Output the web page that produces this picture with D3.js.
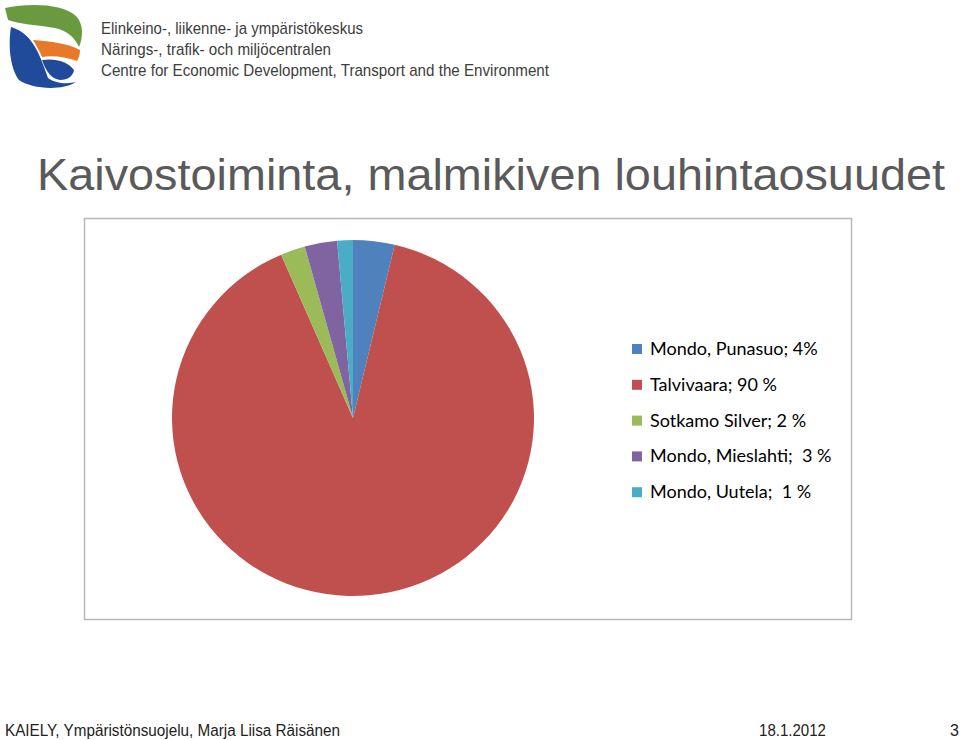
<!DOCTYPE html>
<html>
<head>
<meta charset="utf-8">
<script src="https://cdn.jsdelivr.net/npm/d3@7"></script>
<style>
  body { margin: 0; background: #fff; }
  svg { display: block; }
</style>
</head>
<body>
<svg id="chart" width="960" height="740"></svg>
<script>
// data
const sliceNames = ['Mondo, Punasuo', 'Talvivaara', 'Sotkamo Silver', 'Mondo, Mieslahti', 'Mondo, Uutela'];
const sliceValues = [3.7, 89.8, 2.2, 2.9, 1.4];
const sliceLabels = ['Mondo, Punasuo; 4%', 'Talvivaara; 90 %', 'Sotkamo Silver; 2 %', 'Mondo, Mieslahti;  3 %', 'Mondo, Uutela;  1 %'];
const sliceColors = ['#4f81bd', '#c0504d', '#9bbb59', '#8064a2', '#4bacc6'];
const headerLines = ['Elinkeino-, liikenne- ja ympäristökeskus', 'Närings-, trafik- och miljöcentralen', 'Centre for Economic Development, Transport and the Environment'];

const svg = d3.select('#chart');

// logo
const logo = svg.append('g');
logo.append('path')
  .attr('d', 'M5,8 C28,3 62,3 76,16 C84,24 83,38 79,47 C75,38 68,31 55,28 C38,25 18,24 8,20 Z')
  .attr('fill', '#6a9a3f');
logo.append('path')
  .attr('d', 'M11,27 C30,33 38,48 48,78 C56,84 68,84 76,82 C60,92 30,88 19,80 C10,68 8,45 11,27 Z')
  .attr('fill', '#1f4b9a');
logo.append('path')
  .attr('d', 'M33,40 C50,41 70,44 80,50 C80,54 79,58 77,61 C66,57 52,55 42,57 C39,50 36,45 33,40 Z')
  .attr('fill', '#e8782a');
logo.append('path')
  .attr('d', 'M42,60 C56,58 68,62 74,70 C73,76 68,80 60,80 C52,79 46,72 42,60 Z')
  .attr('fill', '#1f4b9a');

svg.append('g').selectAll('text').data(headerLines).enter().append('text')
  .attr('x', 101)
  .attr('y', (d, i) => 34 + i * 21)
  .style('font-family', 'Liberation Sans, Arial, sans-serif')
  .style('font-size', '17px')
  .attr('fill', '#3d3d3d')
  .attr('textLength', (d, i) => [262, 230, 448][i])
  .attr('lengthAdjust', 'spacingAndGlyphs')
  .text(d => d);

// title
svg.append('text')
  .attr('x', 37)
  .attr('y', 190)
  .style('font-family', 'Liberation Sans, Arial, sans-serif')
  .style('font-size', '44px')
  .attr('fill', '#5a5a5a')
  .attr('textLength', 908)
  .attr('lengthAdjust', 'spacingAndGlyphs')
  .text('Kaivostoiminta, malmikiven louhintaosuudet');

// chart frame
svg.append('rect')
  .attr('x', 84.5).attr('y', 218.5)
  .attr('width', 767).attr('height', 401)
  .attr('fill', '#fff')
  .attr('stroke', '#b8b8b8')
  .attr('stroke-width', 1.5);

// pie
const cx = 353, cy = 418, rx = 181, ry = 178;
const pie = d3.pie().sort(null).value(d => d)(sliceValues);
const arc = d3.arc().innerRadius(0).outerRadius(rx);
svg.append('g')
  .attr('transform', 'translate(' + cx + ',' + cy + ') scale(1,' + (ry / rx) + ')')
  .selectAll('path').data(pie).enter().append('path')
  .attr('d', arc)
  .attr('fill', (d, i) => sliceColors[i]);

// legend
const legend = svg.append('g').attr('transform', 'translate(632,349)');
const row = legend.selectAll('g').data(sliceLabels).enter().append('g')
  .attr('transform', (d, i) => 'translate(0,' + (i * 35.8) + ')');
row.append('rect')
  .attr('x', 0).attr('y', -5)
  .attr('width', 10).attr('height', 10)
  .attr('fill', (d, i) => sliceColors[i]);
row.append('text')
  .attr('x', 18).attr('y', 6)
  .style('font-family', 'Lato, Carlito, Calibri, sans-serif')
  .style('font-size', '18px')
  .style('white-space', 'pre')
  .attr('fill', '#000')
  .text(d => d);

// footer
const foot = 'Liberation Sans Narrow, Liberation Sans, sans-serif';
svg.append('text')
  .attr('x', 5).attr('y', 736)
  .style('font-family', foot)
  .style('font-size', '16px')
  .attr('fill', '#222')
  .attr('textLength', 335)
  .attr('lengthAdjust', 'spacingAndGlyphs')
  .text('KAIELY, Ympäristönsuojelu, Marja Liisa Räisänen');
svg.append('text')
  .attr('x', 759).attr('y', 736)
  .style('font-family', foot)
  .style('font-size', '16px')
  .attr('fill', '#222')
  .attr('textLength', 67)
  .attr('lengthAdjust', 'spacingAndGlyphs')
  .text('18.1.2012');
svg.append('text')
  .attr('x', 959).attr('y', 736)
  .attr('text-anchor', 'end')
  .style('font-family', foot)
  .style('font-size', '16px')
  .attr('fill', '#222')
  .text('3');
</script>
</body>
</html>
